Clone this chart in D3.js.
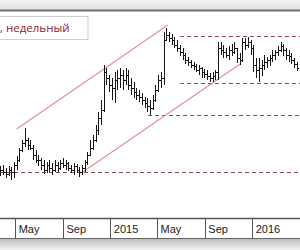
<!DOCTYPE html>
<html><head><meta charset="utf-8">
<script src="https://cdn.jsdelivr.net/npm/d3@7"></script>
<style>body{margin:0;background:#fff}svg{display:block}</style>
</head><body><svg id="c" width="300" height="250"></svg>
<script>
// weekly OHLC bars (price units), first bar week
const firstWeek = "2014-03-24";
const open  = [76,80,78,76,80,78,85,90,100,107,110,105,102,95,90,90,85,80,85,82,80,85,82,87,85,87,82,80,84,80,78,82,88,95,102,110,120,132,140,178,172,165,162,170,172,175,170,175,165,162,158,155,153,150,147,144,142,150,160,170,172,210,215,212,210,205,202,198,195,190,188,185,184,180,182,178,176,174,172,174,178,202,200,198,195,200,198,202,192,190,208,205,208,202,185,180,182,185,188,190,192,195,198,200,204,200,195,194,190,186];
const high  = [84,85,82,84,83,88,94,102,110,122,112,110,105,100,95,92,90,88,90,87,90,88,90,92,90,88,85,87,86,83,85,90,98,110,115,125,138,150,185,182,175,172,178,180,182,180,182,180,172,168,162,160,157,153,152,150,155,165,175,178,218,222,218,216,213,210,205,202,197,193,190,188,186,185,183,181,180,177,178,180,208,208,205,202,204,206,208,202,197,212,212,213,210,205,192,192,190,195,193,195,200,200,204,208,206,202,200,197,192,188];
const low   = [74,75,72,74,70,72,80,88,98,103,100,100,90,87,84,80,76,77,78,75,78,78,80,82,80,79,77,75,77,73,75,78,85,94,100,108,115,125,138,165,158,150,147,160,162,160,165,160,155,152,150,148,145,142,138,135,140,148,158,162,165,210,208,205,202,198,194,190,186,184,182,180,178,175,172,172,170,168,168,170,170,195,192,192,190,194,196,187,185,188,200,202,195,178,172,168,174,180,182,184,188,190,194,198,194,190,188,186,182,179];
const close = [80,78,76,80,78,85,90,100,107,110,105,102,95,90,90,85,80,85,82,80,85,82,87,85,87,82,80,84,80,78,82,88,95,102,110,120,132,140,178,172,165,162,170,172,175,170,175,165,162,158,155,153,150,147,144,142,150,160,170,172,210,215,212,210,205,202,198,195,190,188,185,184,180,182,178,176,174,172,174,178,202,200,198,195,200,198,202,192,190,208,205,208,202,185,180,182,185,188,190,192,195,198,200,204,200,195,194,190,186,182];

const tickDates  = ["2014-05-01","2014-09-01","2015-01-01","2015-05-01","2015-09-01","2016-01-01"];
const tickLabels = ["May","Sep","2015","May","Sep","2016"];

const levelValues = [78, 135, 167, 214];
const levelStarts = ["2014-03-23","2015-04-08","2015-06-29","2015-06-29"];
const channelUpper = [["2014-05-05",121],["2015-05-29",225]];
const channelLower = [["2014-10-22",78],["2015-12-01",186]];
const legendText = ", недельный";

const W = 300, H = 250;
const plotTop = 12, plotBottom = 218, axisBottom = 239;
const svg = d3.select("#c");

const x = d3.scaleUtc().domain([new Date("2014-03-23"), new Date("2016-05-03")]).range([0, W]);
const y = d3.scaleLinear().domain([0, 250]).range([250, 0]);

const start = new Date(firstWeek);
const data = close.map((c, i) => ({
  date: d3.utcDay.offset(start, 7 * i),
  o: open[i], h: high[i], l: low[i], c
}));

// background bands
const defs = svg.append("defs");
const gTop = defs.append("linearGradient").attr("id","gt").attr("x1",0).attr("y1",0).attr("x2",0).attr("y2",1);
gTop.append("stop").attr("offset","0%").attr("stop-color","#f4f4f4");
gTop.append("stop").attr("offset","100%").attr("stop-color","#e2e2e2");
const gBot = defs.append("linearGradient").attr("id","gb").attr("x1",0).attr("y1",0).attr("x2",0).attr("y2",1);
gBot.append("stop").attr("offset","0%").attr("stop-color","#bdbdbd");
gBot.append("stop").attr("offset","100%").attr("stop-color","#f2f2f2");
defs.append("clipPath").attr("id","clip").append("rect")
  .attr("x",0).attr("y",plotTop).attr("width",W).attr("height",plotBottom-plotTop);

svg.append("rect").attr("x",0).attr("y",0).attr("width",W).attr("height",10).attr("fill","url(#gt)");
svg.append("rect").attr("x",0).attr("y",axisBottom).attr("width",W).attr("height",H-axisBottom).attr("fill","url(#gb)");
svg.append("line").attr("x1",0).attr("x2",W).attr("y1",10.5).attr("y2",10.5)
  .attr("stroke","#707070").attr("stroke-width",2);

const plot = svg.append("g").attr("clip-path","url(#clip)");

// horizontal dashed levels
plot.selectAll("line.lvl").data(levelValues).join("line").attr("class","lvl")
  .attr("x1",(d,i)=>x(new Date(levelStarts[i]))).attr("x2",W)
  .attr("y1",d=>Math.round(y(d))+0.5).attr("y2",d=>Math.round(y(d))+0.5)
  .attr("stroke","#8a5054").attr("stroke-width",1).attr("stroke-dasharray","4,3");

// channel lines
[channelUpper, channelLower].forEach(seg => {
  plot.append("line")
    .attr("x1",x(new Date(seg[0][0]))).attr("y1",y(seg[0][1]))
    .attr("x2",x(new Date(seg[1][0]))).attr("y2",y(seg[1][1]))
    .attr("stroke","#de9095").attr("stroke-width",1.1);
});

// OHLC bars
const bars = plot.append("g").attr("stroke","#151515").attr("stroke-width",1).attr("shape-rendering","crispEdges");
data.forEach(d => {
  const cx = Math.round(x(d.date)) + 0.5;
  bars.append("line").attr("x1",cx).attr("x2",cx).attr("y1",y(d.h)).attr("y2",y(d.l));
  bars.append("line").attr("x1",cx-1.5).attr("x2",cx).attr("y1",Math.round(y(d.o))+0.5).attr("y2",Math.round(y(d.o))+0.5);
  bars.append("line").attr("x1",cx).attr("x2",cx+1.5).attr("y1",Math.round(y(d.c))+0.5).attr("y2",Math.round(y(d.c))+0.5);
});

// legend box
svg.append("rect").attr("x",-2).attr("y",16.5).attr("width",90).attr("height",23)
  .attr("fill","#fff").attr("stroke","#cfcfcf");
svg.append("text").attr("x",0).attr("y",32).text(legendText)
  .attr("font-family","Open Sans").attr("font-size",11.5).attr("fill","#8e2236");

// axis band
svg.append("rect").attr("x",0).attr("y",plotBottom).attr("width",W).attr("height",axisBottom-plotBottom).attr("fill","#fff");
const axis = d3.axisBottom(x)
  .tickValues(tickDates.map(d=>new Date(d)))
  .tickFormat((d,i)=>tickLabels[i])
  .tickSize(axisBottom - plotBottom).tickSizeOuter(0);
const ga = svg.append("g").attr("transform",`translate(0,${plotBottom})`).call(axis);
ga.select(".domain").remove();
ga.selectAll(".tick line").attr("stroke","#555").attr("shape-rendering","crispEdges");
ga.selectAll(".tick text").attr("text-anchor","start").attr("x",3).attr("y",7).attr("dy","0.71em")
  .attr("font-family","Liberation Sans, Arial").attr("font-size",11).attr("fill","#222");
svg.append("line").attr("x1",0).attr("x2",W).attr("y1",plotBottom+0.5).attr("y2",plotBottom+0.5)
  .attr("stroke","#555").attr("stroke-width",1.5);
svg.append("line").attr("x1",0).attr("x2",W).attr("y1",axisBottom-0.5).attr("y2",axisBottom-0.5)
  .attr("stroke","#666").attr("stroke-width",1);
</script></body></html>
